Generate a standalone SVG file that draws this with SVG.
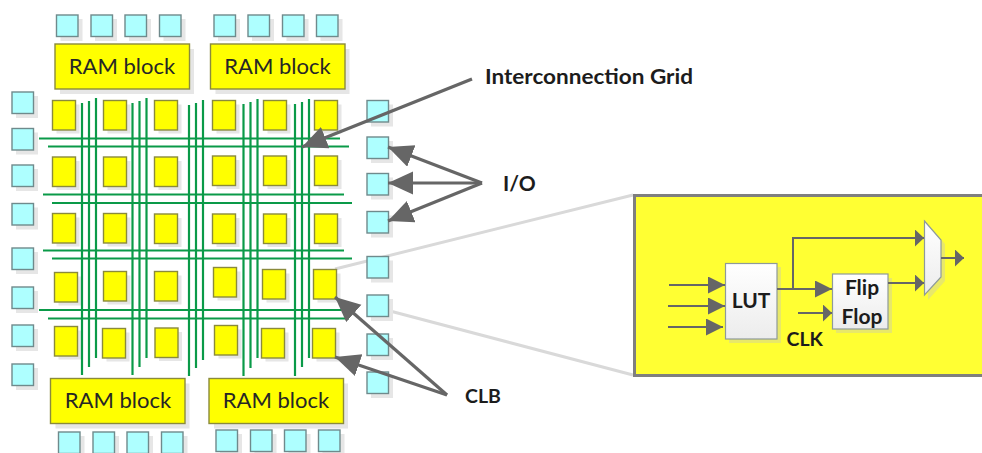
<svg xmlns="http://www.w3.org/2000/svg" xmlns:xlink="http://www.w3.org/1999/xlink" width="982" height="453" viewBox="0 0 982 453">
<style>
text{font-family:Lato,"Liberation Sans",sans-serif;fill:#262626}
.ram{font-size:22px;text-anchor:middle}
.lbl{font-size:19.500px;font-weight:700;fill:#1c1c1c}
.pl{font-size:21px;font-weight:700;text-anchor:middle;fill:#1c1c1c}
.sh{fill:#e6e6e6}
.io{fill:#aeffff;stroke:#6f8a8c;stroke-width:1.4}
.clb{fill:#ffff00;stroke:#8a8a3c;stroke-width:1.4}
.g line{stroke:#0a9a48;stroke-width:2.2}
.a{stroke:#666;stroke-width:3.2;fill:none}
.p{stroke:#666;stroke-width:2;fill:none}
.lg{stroke:#d9d9d9;stroke-width:3;fill:none}
.b{fill:url(#wg);stroke:#8e9a9a;stroke-width:1.2}
.ps{fill:#e8e86a}
</style>
<defs>
<linearGradient id="wg" x1="0" y1="0" x2="0" y2="1"><stop offset="0" stop-color="#fff"/><stop offset="1" stop-color="#ececec"/></linearGradient>
<marker id="big" markerUnits="userSpaceOnUse" markerWidth="26" markerHeight="24" refX="25" refY="11.500" orient="auto"><path d="M0 0L25 11.500L0 23Z" fill="#666"/></marker>
<marker id="ph" markerUnits="userSpaceOnUse" markerWidth="18" markerHeight="18" refX="17" refY="8.500" orient="auto"><path d="M0 0L17 8.500L0 17Z" fill="#666"/></marker>
<marker id="ps" markerUnits="userSpaceOnUse" markerWidth="10" markerHeight="18" refX="9" refY="8.500" orient="auto"><path d="M0 0L9 8.500L0 17Z" fill="#666"/></marker>
<g id="i"><rect x="4" y="4" width="22" height="22" class="sh"/><rect width="21.500" height="21.500" class="io"/></g>
<g id="c"><rect x="4" y="4" width="23" height="29" class="sh"/><rect width="23" height="29.500" class="clb"/></g>
<g id="r"><rect x="5" y="5" width="134" height="45" class="sh"/><rect width="134.500" height="45" class="clb"/></g>
</defs>
<g id="connectors">
<path class="lg" d="M335 269L633 195M390 311L633 375"/>
</g>
<g id="io-top"><use href="#i" x="56.500" y="15"/><use href="#i" x="91" y="15"/><use href="#i" x="125" y="15"/><use href="#i" x="159.500" y="15"/><use href="#i" x="214" y="15"/><use href="#i" x="248" y="15"/><use href="#i" x="282.500" y="15"/><use href="#i" x="316.500" y="15"/></g>
<g id="io-left"><use href="#i" x="12" y="92"/><use href="#i" x="12" y="128.500"/><use href="#i" x="12" y="165"/><use href="#i" x="12" y="203.500"/><use href="#i" x="12" y="248"/><use href="#i" x="12" y="287"/><use href="#i" x="12" y="325"/><use href="#i" x="12" y="364"/></g>
<g id="io-right"><use href="#i" x="367" y="100.500"/><use href="#i" x="367" y="137"/><use href="#i" x="367" y="173.500"/><use href="#i" x="367" y="211.500"/><use href="#i" x="367" y="256.500"/><use href="#i" x="367" y="295"/><use href="#i" x="367" y="334"/><use href="#i" x="367" y="372"/></g>
<g id="io-bottom"><use href="#i" x="58.500" y="432"/><use href="#i" x="93" y="432"/><use href="#i" x="127" y="432"/><use href="#i" x="161.500" y="432"/><use href="#i" x="216" y="430"/><use href="#i" x="250.500" y="430"/><use href="#i" x="284.500" y="430"/><use href="#i" x="318.500" y="430"/></g>
<g id="ram-1"><use href="#r" x="55" y="44"/><text class="ram" x="122" y="74">RAM block</text></g>
<g id="ram-2"><use href="#r" x="210.500" y="44"/><text class="ram" x="277.500" y="74">RAM block</text></g>
<g id="ram-3"><use href="#r" x="50.500" y="378.500"/><text class="ram" x="118" y="408">RAM block</text></g>
<g id="ram-4"><use href="#r" x="209" y="378.500"/><text class="ram" x="276" y="408">RAM block</text></g>
<g id="clbs">
<use href="#c" x="52.500" y="100.500"/><use href="#c" x="103.500" y="100.500"/><use href="#c" x="154.500" y="100.500"/><use href="#c" x="212.500" y="100.500"/><use href="#c" x="263.500" y="100.500"/><use href="#c" x="314.500" y="100.500"/>
<use href="#c" x="52.500" y="157"/><use href="#c" x="103.500" y="157"/><use href="#c" x="154.500" y="157"/><use href="#c" x="212.500" y="156"/><use href="#c" x="263.500" y="156"/><use href="#c" x="314.500" y="156"/>
<use href="#c" x="52.500" y="213.500"/><use href="#c" x="103.500" y="213.500"/><use href="#c" x="154.500" y="214"/><use href="#c" x="212.500" y="214"/><use href="#c" x="263.500" y="214"/><use href="#c" x="314.500" y="214"/>
<use href="#c" x="54.500" y="272.500"/><use href="#c" x="103.500" y="271.500"/><use href="#c" x="154.500" y="271.500"/><use href="#c" x="213.500" y="267.500"/><use href="#c" x="262.500" y="269.500"/><use href="#c" x="313.500" y="269.500"/>
<use href="#c" x="54.500" y="326.500"/><use href="#c" x="102.500" y="328.500"/><use href="#c" x="155" y="328"/><use href="#c" x="214.500" y="325.500"/><use href="#c" x="261.500" y="328.500"/><use href="#c" x="312.500" y="328.500"/>
</g>
<g id="grid" class="g">
<line x1="82" y1="103" x2="82" y2="375"/><line x1="89" y1="101" x2="89" y2="367"/><line x1="96" y1="98" x2="96" y2="358"/>
<line x1="132.500" y1="103" x2="132.500" y2="375"/><line x1="139.500" y1="101" x2="139.500" y2="367"/><line x1="146.500" y1="98" x2="146.500" y2="358"/>
<line x1="189" y1="105" x2="189" y2="376"/><line x1="196" y1="103" x2="196" y2="368"/><line x1="203" y1="100" x2="203" y2="360"/>
<line x1="243.500" y1="104" x2="243.500" y2="376"/><line x1="250.500" y1="102" x2="250.500" y2="368"/><line x1="257.500" y1="99" x2="257.500" y2="358"/>
<line x1="295" y1="104" x2="295" y2="376"/><line x1="302" y1="102" x2="302" y2="367"/><line x1="309" y1="99" x2="309" y2="358"/>
<line x1="39" y1="138.500" x2="340" y2="138.500"/><line x1="48" y1="146.500" x2="349" y2="146.500"/>
<line x1="43" y1="194.500" x2="344" y2="194.500"/><line x1="52" y1="203" x2="352" y2="203"/>
<line x1="43" y1="250.500" x2="344" y2="250.500"/><line x1="52" y1="258.500" x2="352" y2="258.500"/>
<line x1="39" y1="310" x2="344" y2="310"/><line x1="48" y1="318.500" x2="349" y2="318.500"/>
</g>
<g id="callouts">
<line class="a" x1="472" y1="79" x2="302" y2="147" marker-end="url(#big)"/>
<line class="a" x1="482" y1="183" x2="388" y2="147" marker-end="url(#big)"/>
<line class="a" x1="482" y1="183" x2="388" y2="183" marker-end="url(#big)"/>
<line class="a" x1="482" y1="183" x2="388" y2="221" marker-end="url(#big)"/>
<line class="a" x1="447" y1="395" x2="335" y2="297" marker-end="url(#big)"/>
<line class="a" x1="447" y1="395" x2="335" y2="357" marker-end="url(#big)"/>
</g>
<g id="labels">
<text class="lbl" x="485" y="84" style="font-size:21px" textLength="208" lengthAdjust="spacingAndGlyphs">Interconnection Grid</text>
<text class="lbl" x="503" y="191" style="font-size:21px">I/O</text>
<text class="lbl" x="465" y="403">CLB</text>
</g>
<g id="clb-detail">
<rect x="634.500" y="195.500" width="352" height="180" fill="#ffff33" stroke="#7f7f7f" stroke-width="3"/>
</g>
<g id="lut"><rect x="729" y="267" width="52" height="76" class="ps"/><rect x="725.500" y="263.500" width="51.500" height="75.500" class="b"/><text class="pl" x="751" y="308">LUT</text></g>
<g id="flipflop"><rect x="836" y="278" width="56" height="55" class="ps"/><rect x="832.500" y="274" width="55.500" height="55" class="b"/><text class="pl" x="862" y="295">Flip</text><text class="pl" x="862" y="324">Flop</text></g>
<g id="mux"><path d="M928 225L945 244V281L928 300Z" class="ps"/><path d="M924.500 221L941 240V277L924.500 295Z" class="b"/></g>
<g id="detail-connectors">
<line class="p" x1="669" y1="285" x2="725" y2="285" marker-end="url(#ph)"/>
<line class="p" x1="668" y1="306" x2="725" y2="306" marker-end="url(#ph)"/>
<line class="p" x1="668" y1="327" x2="723" y2="327" marker-end="url(#ph)"/>
<line class="p" x1="777" y1="289" x2="832" y2="289" marker-end="url(#ph)"/>
<path class="p" d="M793 289V238H924" marker-end="url(#ps)"/>
<line class="p" x1="798" y1="313" x2="832" y2="313" marker-end="url(#ps)"/>
<line class="p" x1="888" y1="283" x2="924" y2="283" marker-end="url(#ps)"/>
<line class="p" x1="941" y1="258" x2="964" y2="258" marker-end="url(#ps)"/>
</g>
<text class="lbl" x="786.500" y="346">CLK</text>
</svg>
